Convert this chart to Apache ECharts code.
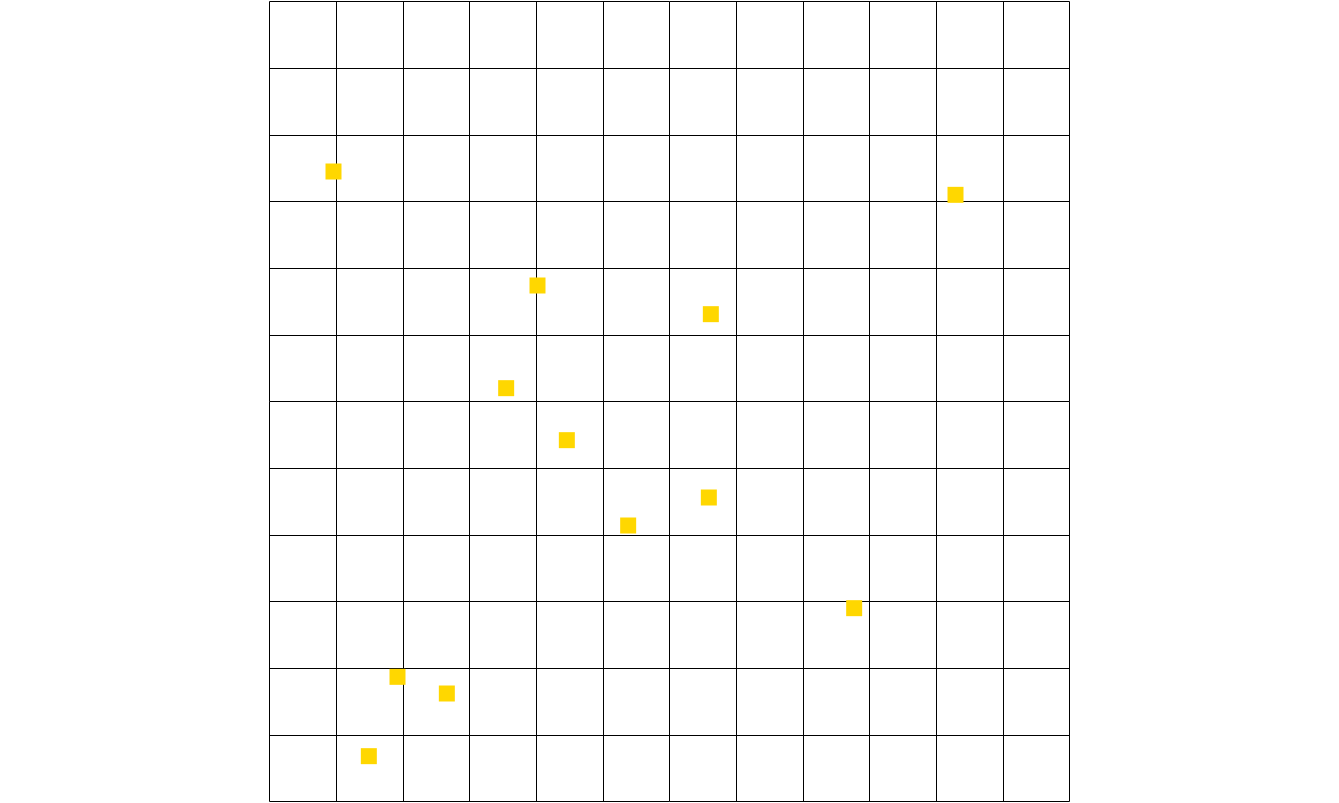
<!DOCTYPE html>
<html>
<head>
<meta charset="utf-8">
<script src="https://cdn.jsdelivr.net/npm/echarts@6/dist/echarts.min.js"></script>
<style>html,body{margin:0;padding:0;background:#fff;}#chart{width:1339px;height:803px;}</style>
</head>
<body>
<div id="chart"></div>
<script>
var xValues = [0.96, 10.29, 4.02, 6.62, 3.55, 4.46, 5.38, 6.59, 8.77, 1.92, 2.66, 1.49];
var yValues = [9.45, 9.10, 7.74, 7.31, 6.20, 5.42, 4.14, 4.56, 2.90, 1.87, 1.62, 0.68];
var points = xValues.map(function (x, i) { return [x, yValues[i]]; });

var chart = echarts.init(document.getElementById('chart'));
var axisCommon = {
  type: 'value', min: 0, max: 12, interval: 1,
  axisLine: { show: false }, axisTick: { show: false }, axisLabel: { show: false },
  splitLine: { show: true, lineStyle: { color: '#000', width: 1 } }
};
chart.setOption({
  animation: false,
  backgroundColor: '#fff',
  grid: { left: 269.5, top: 1.5, width: 800, height: 800 },
  xAxis: axisCommon,
  yAxis: axisCommon,
  series: [{
    type: 'scatter',
    symbol: 'rect',
    symbolSize: 16,
    itemStyle: { color: '#FFD700', opacity: 1 },
    data: points
  }]
});
</script>
</body>
</html>
